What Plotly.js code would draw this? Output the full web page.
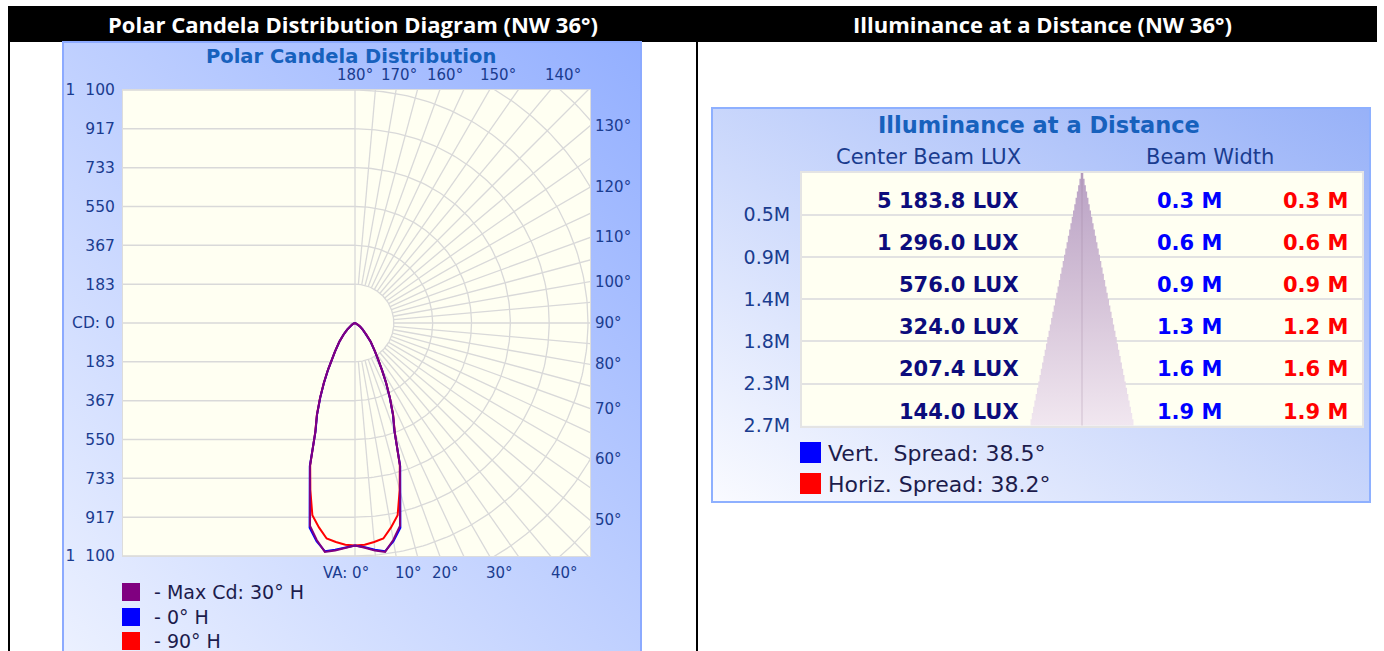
<!DOCTYPE html>
<html><head><meta charset="utf-8">
<script src="https://cdn.plot.ly/plotly-3.0.1.min.js"></script>
<style>html,body{margin:0;padding:0;background:#fff;overflow:hidden}#chart{width:1384px;height:651px}</style>
</head><body><div id="chart"></div>
<script>
// ---------------- DATA ----------------
const vaAngles = [0,2.5,5,7.5,10,12.5,15,17.5,20,22.5,25,27.5,30,32.5,35,40,45,50,55,60,65,70,75,80,85,90];
const cdMax30H = [1050,1062,1078,1090,1040,981,821,706,548,470,390,318,255,205,165,115,75,48,30,18,10,6,3,1,0,0];
const cd0H     = [1050,1060,1075,1087,1046,990,826,710,545,468,388,316,254,204,164,114,74,47,29,17,10,6,3,1,0,0];
const cd90H    = [1050,1048,1038,1026,980,930,815,704,548,470,390,318,255,205,165,115,75,48,30,18,10,6,3,1,0,0];
const seriesNames  = ['- Max Cd: 30° H','- 0° H','- 90° H'];
const seriesColors = ['#800080','#0000ff','#ff0000'];
const cdTickVals = [1100,917,733,550,367,183,0,-183,-367,-550,-733,-917,-1100];
const cdTickText = ['1\u2007100','917','733','550','367','183','CD: 0','183','367','550','733','917','1\u2007100'];
const angleLabels = [0,10,20,30,40,50,60,70,80,90,100,110,120,130,140,150,160,170,180];

const distances  = [0.45,0.9,1.35,1.8,2.25,2.7];
const distLabels = ['0.5M','0.9M','1.4M','1.8M','2.3M','2.7M'];
const centerLux  = [5183.8,1296.0,576.0,324.0,207.4,144.0];
const vertWidth  = [0.3,0.6,0.9,1.3,1.6,1.9];
const horizWidth = [0.3,0.6,0.9,1.2,1.6,1.9];
const vertSpread = 38.5;
const horizSpread = 38.2;

// ---------------- LAYOUT GEOMETRY ----------------
const W=1384, H=651;
const PX = x => x/W, PY = y => 1 - y/H;
const P = {L:123, R:590, T:90, B:556, cx:355, cy:323};
const cdMax = cdTickVals[0];
const ppc = (P.B-P.T)/(2*cdMax);
const xr = [(P.L-P.cx)/ppc, (P.R-P.cx)/ppc];
const rad = d => d*Math.PI/180;
const TB = {L:802, R:1362, T:172.5, B:425.7};
const dMax = distances[distances.length-1];

const FONT = 'DejaVu Sans';
const NAVY = '#1a3c8f';
const traces = [];

// polar grid
const ringStep = cdMax/6;
const gx=[], gy=[];
const seg=(xs,ys)=>{gx.push(...xs,null); gy.push(...ys,null);};
cdTickVals.forEach(v=>seg([-2*cdMax,0],[v,v]));
seg([0,0],[-2*cdMax,2*cdMax]);
for(let k=1;k<=8;k++){const r=k*ringStep, xs=[], ys=[]; for(let a=0;a<=180;a+=1){xs.push(r*Math.sin(rad(a))); ys.push(-r*Math.cos(rad(a)));} seg(xs,ys);}
for(let a=5;a<180;a+=5){const t=rad(a); seg([ringStep*Math.sin(t),3*cdMax*Math.sin(t)],[-ringStep*Math.cos(t),-3*cdMax*Math.cos(t)]);}
traces.push({type:'scatter',mode:'lines',x:gx,y:gy,xaxis:'x',yaxis:'y',line:{color:'#d9d9d9',width:1.3},hoverinfo:'skip',showlegend:false,connectgaps:false});

function polarTrace(vals,color){
  const xs=[], ys=[];
  for(let i=vaAngles.length-1;i>=0;i--){const a=rad(vaAngles[i]); xs.push(-vals[i]*Math.sin(a)); ys.push(-vals[i]*Math.cos(a));}
  for(let i=1;i<vaAngles.length;i++){const a=rad(vaAngles[i]); xs.push(vals[i]*Math.sin(a)); ys.push(-vals[i]*Math.cos(a));}
  return {type:'scatter',mode:'lines',x:xs,y:ys,xaxis:'x',yaxis:'y',line:{color:color,width:2},hoverinfo:'skip',showlegend:false};
}
traces.push(polarTrace(cd90H,seriesColors[2]));
traces.push(polarTrace(cd0H,seriesColors[1]));
traces.push(polarTrace(cdMax30H,seriesColors[0]));

// beam cone (stepped)
const half = d => d*Math.tan(rad(vertSpread/2));
const nSteps = 40, cx=[], cy=[];
for(let i=0;i<nSteps;i++){const d0=dMax*i/nSteps, d1=dMax*(i+1)/nSteps; cx.push(half(d1),half(d1)); cy.push(d0,d1);}
for(let i=nSteps-1;i>=0;i--){const d0=dMax*i/nSteps, d1=dMax*(i+1)/nSteps; cx.push(-half(d1),-half(d1)); cy.push(d1,d0);}
traces.push({type:'scatter',mode:'lines',x:cx,y:cy,xaxis:'x2',yaxis:'y2',fill:'toself',line:{width:0,color:'rgba(0,0,0,0)'},
  fillgradient:{type:'vertical',colorscale:[[0,'#b9a1c4'],[0.5,'#d5c3d8'],[1,'#f1e7f0']],start:0,stop:dMax},hoverinfo:'skip',showlegend:false});
traces.push({type:'scatter',mode:'lines',x:[0,0],y:[0,dMax],xaxis:'x2',yaxis:'y2',line:{color:'rgba(150,120,150,0.35)',width:1},hoverinfo:'skip',showlegend:false});
const xr2Half = half(dMax)*((TB.R-TB.L)/2)/51.5;

// ---------------- ANNOTATIONS ----------------
const ann = [];
const txt=(x,y,text,o={})=>ann.push(Object.assign({xref:'paper',yref:'paper',x:PX(x),y:PY(y),text:text,showarrow:false,xanchor:'center',yanchor:'middle',
  font:{family:FONT,size:15,color:NAVY}},o));
// headers
txt(353,24,'<b>Polar Candela Distribution Diagram (NW 36°)</b>',{font:{family:'Open Sans',size:22,color:'#ffffff'}});
txt(1042,24,'<b>Illuminance at a Distance (NW 36°)</b>',{font:{family:'Open Sans',size:22,color:'#ffffff'}});
// polar title
txt(351,56,'<b>Polar Candela Distribution</b>',{font:{family:FONT,size:19.5,color:'#1761bd'}});
// angle labels
angleLabels.forEach(a=>{
  const t=rad(a); let x,y,xa='center',label=a+'°';
  if(a<=40){y=P.cy+250; x=P.cx+250*Math.tan(t); if(a===0){label='VA: 0°'; xa='right'; x=P.cx+16;} if(a===10) x+=9;}
  else if(a>=140){y=P.cy-248; x=P.cx+248*Math.tan(Math.PI-t);}
  else {x=P.R+3; y=P.cy+(P.R-P.cx)*Math.cos(t)/Math.sin(t); xa='left';}
  txt(x,y,label,{xanchor:xa});
});
// polar legend
seriesNames.forEach((n,i)=>txt(152,592+i*24.5,n,{xanchor:'left',font:{family:FONT,size:19,color:'#1c1c4c'}}));
// illuminance panel
txt(1039,125,'<b>Illuminance at a Distance</b>',{font:{family:FONT,size:22.5,color:'#1761bd'}});
txt(928,157,'Center Beam LUX',{font:{family:FONT,size:21,color:NAVY}});
txt(1210,157,'Beam Width',{font:{family:FONT,size:21,color:NAVY}});
const fmt = v => {const p=v.toFixed(1).split('.'); return p[0].replace(/\B(?=(\d{3})+(?!\d))/g,' ')+'.'+p[1];};
const rowH = dMax/distances.length;
distances.forEach((d,i)=>{
  const yv = d - rowH/2 + 0.075;
  const base = {yref:'y2',y:yv,xref:'paper',showarrow:false,xanchor:'right',yanchor:'middle'};
  ann.push(Object.assign({},base,{x:PX(1021),text:'<b>'+fmt(centerLux[i])+' LUX</b>',font:{family:FONT,size:21,color:'#0c0c7c'}}));
  ann.push(Object.assign({},base,{x:PX(1224),text:'<b>'+vertWidth[i].toFixed(1)+' M</b>',font:{family:FONT,size:21,color:'#0000ff'}}));
  ann.push(Object.assign({},base,{x:PX(1350),text:'<b>'+horizWidth[i].toFixed(1)+' M</b>',font:{family:FONT,size:21,color:'#ff0000'}}));
});
txt(826,453,'Vert.\u00a0 Spread: '+vertSpread.toFixed(1)+'°',{xanchor:'left',font:{family:FONT,size:22,color:'#1c1c4c'}});
txt(826,484,'Horiz. Spread: '+horizSpread.toFixed(1)+'°',{xanchor:'left',font:{family:FONT,size:22,color:'#1c1c4c'}});

// ---------------- SHAPES / IMAGES ----------------
const rect=(x0,y0,x1,y1,o)=>Object.assign({type:'rect',xref:'paper',yref:'paper',x0:PX(x0),x1:PX(x1),y0:PY(y1),y1:PY(y0),layer:'below'},o);
const shapes = [
  rect(8,6,1377,42,{fillcolor:'#000',line:{width:0}}),
  rect(8,6,10,660,{fillcolor:'#000',line:{width:0}}),
  rect(696,6,698,660,{fillcolor:'#000',line:{width:0}}),
  rect(63,42,641,660,{fillcolor:'rgba(0,0,0,0)',line:{color:'#8caaff',width:2}}),
  rect(712,108,1370,502,{fillcolor:'rgba(0,0,0,0)',line:{color:'#8eb0ff',width:2}}),
  {type:'rect',xref:'x domain',yref:'y domain',x0:0,x1:1,y0:0,y1:1,fillcolor:'#fffff2',line:{width:0},layer:'below'},
  {type:'rect',xref:'x2 domain',yref:'y2 domain',x0:0,x1:1,y0:0,y1:1,fillcolor:'#fffff2',line:{width:0},layer:'below'},
  rect(122,583,140,601,{fillcolor:seriesColors[0],line:{width:0},layer:'above'}),
  rect(122,608,140,626,{fillcolor:seriesColors[1],line:{width:0},layer:'above'}),
  rect(122,632,140,650,{fillcolor:seriesColors[2],line:{width:0},layer:'above'}),
  rect(800,442,821,463,{fillcolor:'#0000ff',line:{width:0},layer:'above'}),
  rect(800,473,821,494,{fillcolor:'#ff0000',line:{width:0},layer:'above'})
];
const grad=(c0,c1)=>'data:image/svg+xml;charset=utf-8,'+encodeURIComponent(
 "<svg xmlns='http://www.w3.org/2000/svg' width='100' height='100' viewBox='0 0 100 100' preserveAspectRatio='none'><defs><linearGradient id='g' x1='0' y1='1' x2='1' y2='0'><stop offset='0' stop-color='"+c0+"'/><stop offset='1' stop-color='"+c1+"'/></linearGradient></defs><rect width='100' height='100' fill='url(#g)'/></svg>");
const images = [
  {source:grad('#ecf1ff','#93afff'),xref:'paper',yref:'paper',x:PX(62),y:PY(41),sizex:(642-62)/W,sizey:(660-41)/H,xanchor:'left',yanchor:'top',sizing:'stretch',layer:'below'},
  {source:grad('#fafbff','#97b1f8'),xref:'paper',yref:'paper',x:PX(711),y:PY(107),sizex:(1371-711)/W,sizey:(503-107)/H,xanchor:'left',yanchor:'top',sizing:'stretch',layer:'below'}
];

const layout = {
  width:W,height:H,margin:{l:0,r:0,t:0,b:0},paper_bgcolor:'#ffffff',plot_bgcolor:'rgba(0,0,0,0)',
  showlegend:false,hovermode:false,
  xaxis:{domain:[PX(P.L),PX(P.R)],range:xr,showgrid:false,zeroline:false,showticklabels:false,ticks:'',showline:true,mirror:true,linecolor:'#dcdcdc',linewidth:1,fixedrange:true},
  yaxis:{domain:[PY(P.B),PY(P.T)],range:[-cdMax,cdMax],tickvals:cdTickVals,ticktext:cdTickText,showgrid:false,zeroline:false,ticks:'',ticklabelstandoff:4,
    showline:true,mirror:true,linecolor:'#dcdcdc',linewidth:1,tickfont:{family:FONT,size:15.5,color:NAVY},fixedrange:true},
  xaxis2:{domain:[PX(TB.L),PX(TB.R)],range:[-xr2Half,xr2Half],anchor:'y2',showgrid:false,zeroline:false,showticklabels:false,ticks:'',showline:true,mirror:true,linecolor:'#e4e4e4',linewidth:2,fixedrange:true},
  yaxis2:{domain:[PY(TB.B),PY(TB.T)],range:[dMax,0],anchor:'x2',tickvals:distances,ticktext:distLabels,showgrid:true,gridcolor:'#e2e2e2',gridwidth:2,zeroline:false,ticks:'',ticklabelstandoff:6,
    showline:true,mirror:true,linecolor:'#e4e4e4',linewidth:2,tickfont:{family:FONT,size:19,color:NAVY},fixedrange:true},
  annotations:ann,shapes:shapes,images:images
};
Plotly.newPlot('chart',traces,layout,{staticPlot:true,displayModeBar:false});
</script></body></html>
